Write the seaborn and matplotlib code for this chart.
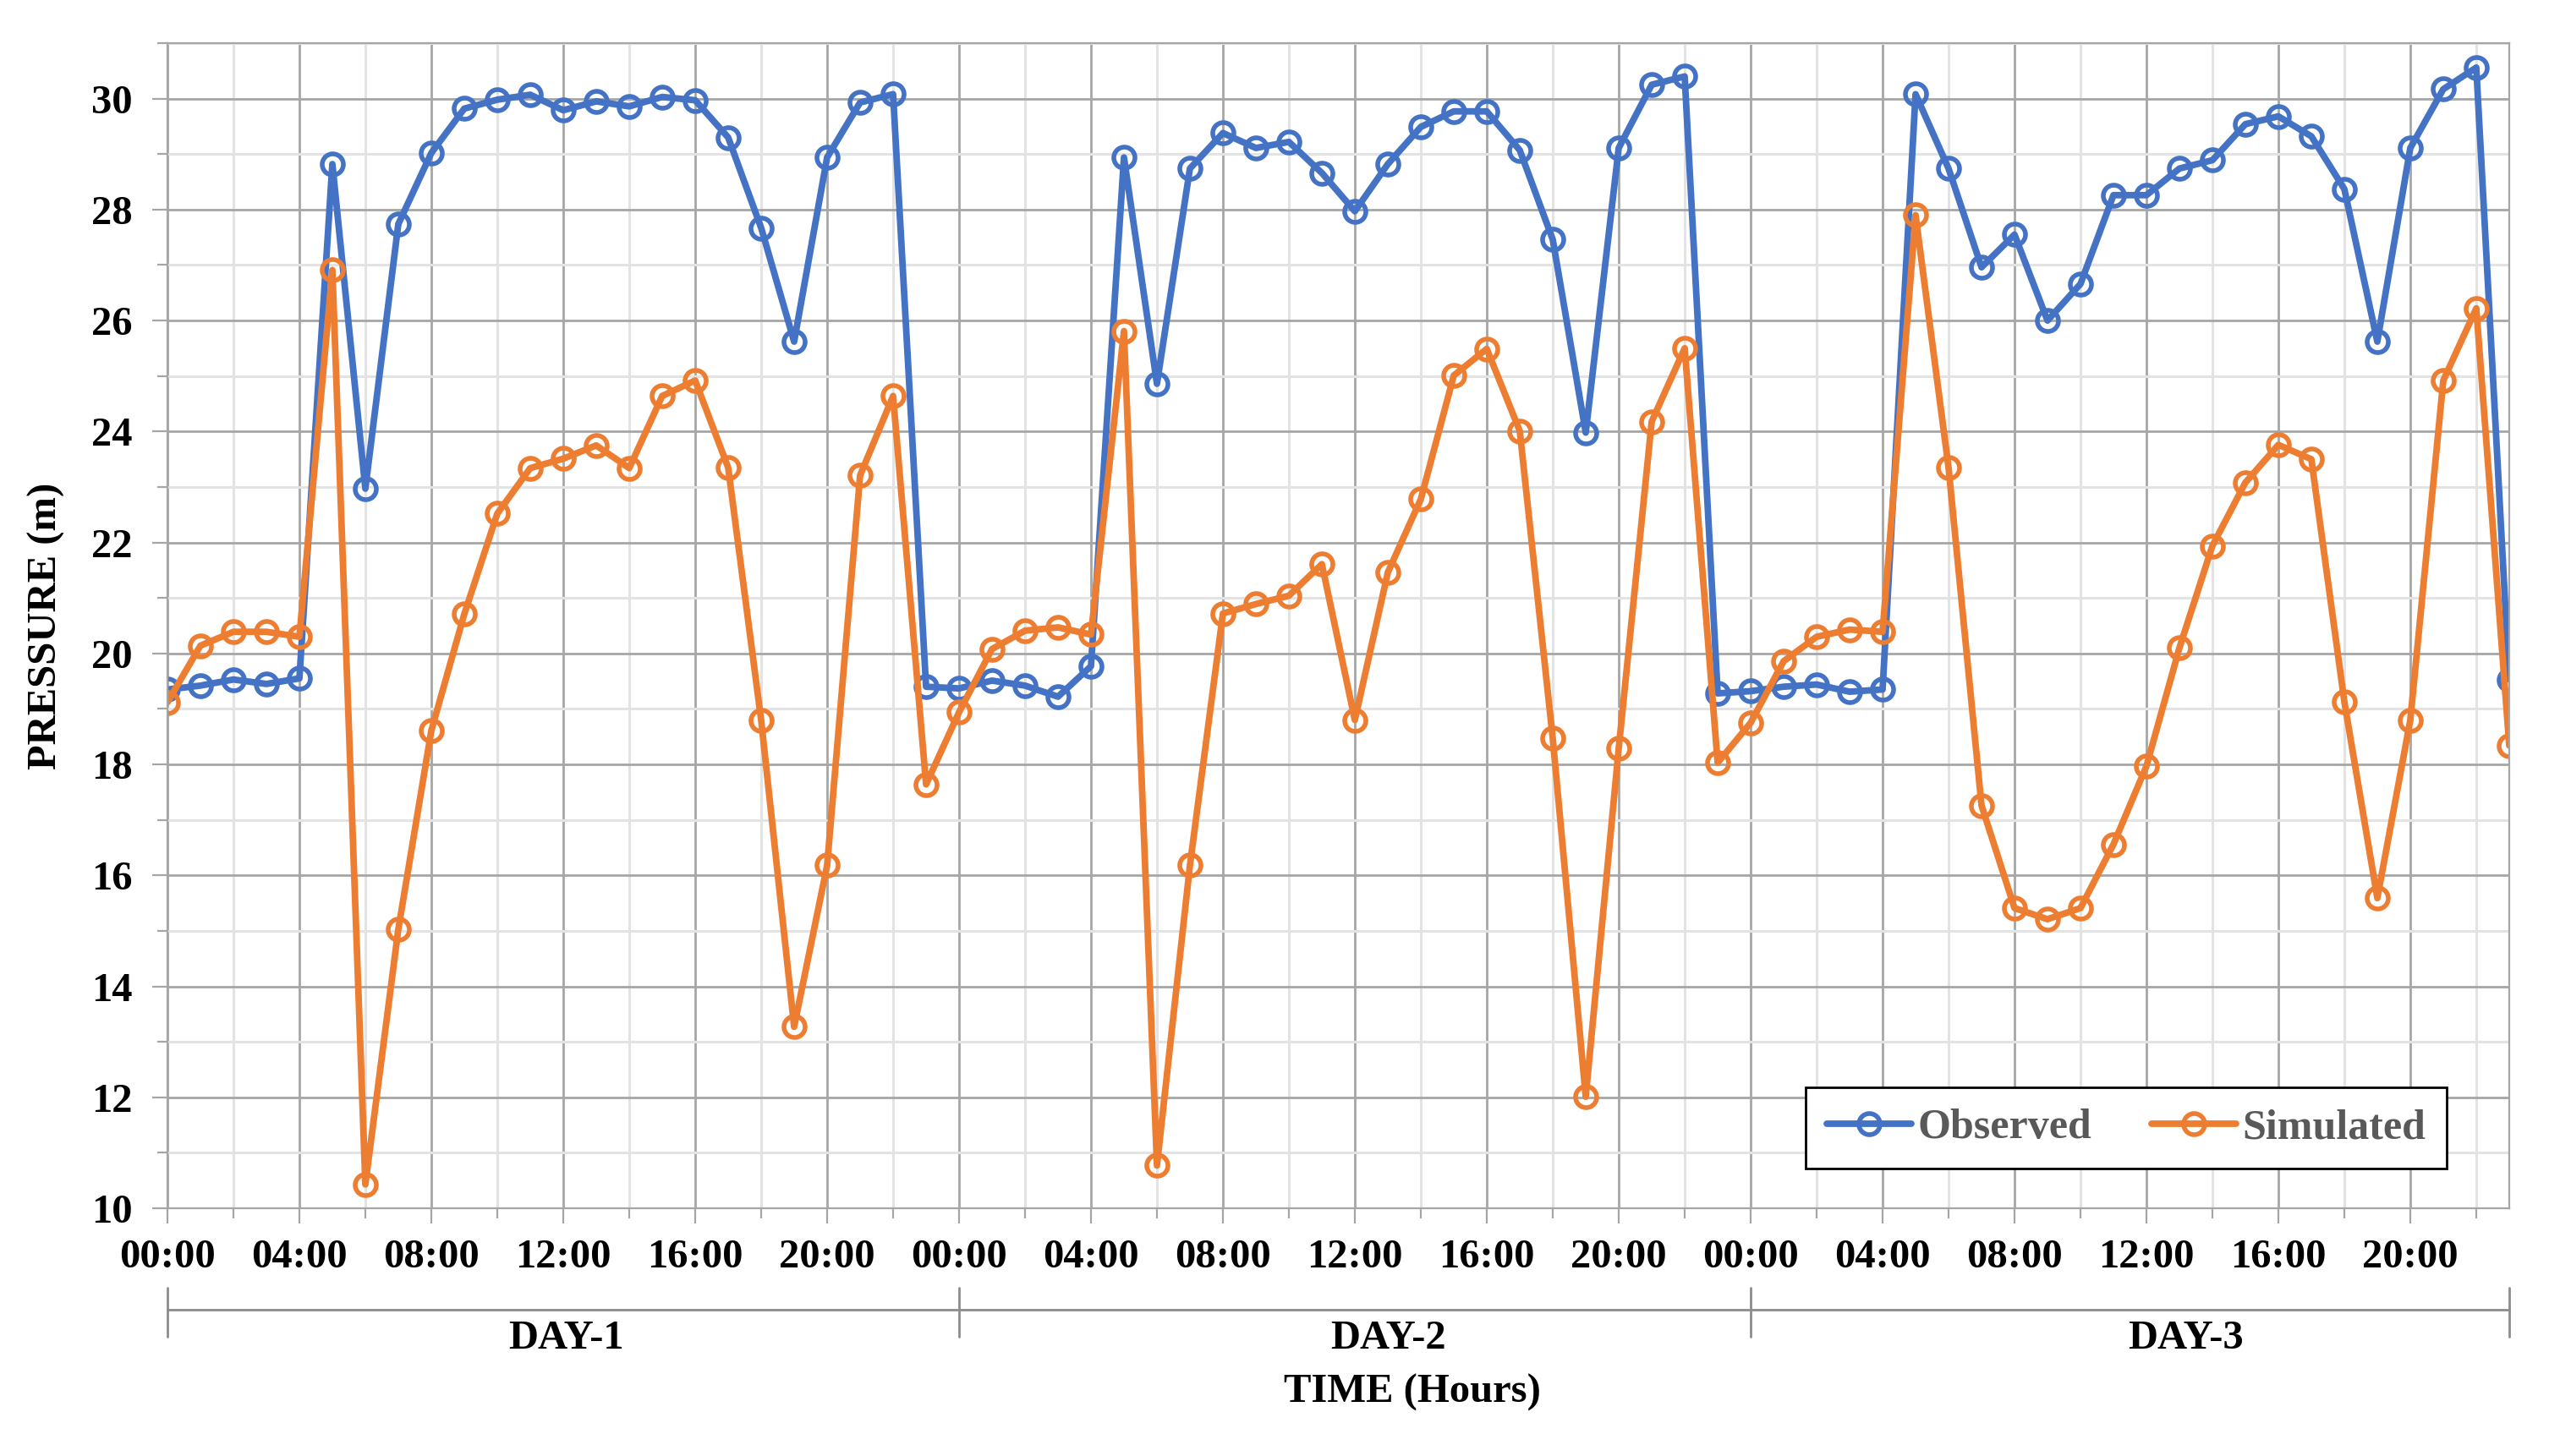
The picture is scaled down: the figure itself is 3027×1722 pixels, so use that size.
import pandas as pd
import matplotlib.pyplot as plt
from matplotlib.ticker import MultipleLocator, FixedLocator
import seaborn as sns

# hourly index over three days (00:00 day-1 ... 23:00 day-3)
hours = list(range(72))

observed = [
    19.35, 19.42, 19.53, 19.45, 19.55, 28.82, 22.97, 27.74, 29.02, 29.82, 29.98, 30.07,
    29.79, 29.95, 29.86, 30.03, 29.97, 29.30, 27.67, 25.62, 28.94, 29.93, 30.08, 19.40,
    19.37, 19.51, 19.42, 19.22, 19.77, 28.94, 24.86, 28.74, 29.38, 29.11, 29.22, 28.66,
    27.97, 28.82, 29.49, 29.77, 29.77, 29.07, 27.46, 23.98, 29.11, 30.25, 30.40, 19.28,
    19.32, 19.40, 19.44, 19.31, 19.35, 30.08, 28.74, 26.96, 27.55, 26.00, 26.66, 28.26,
    28.26, 28.74, 28.89, 29.54, 29.68, 29.32, 28.37, 25.62, 29.11, 30.17, 30.56, 19.53,
]

simulated = [
    19.12, 20.14, 20.39, 20.39, 20.30, 26.91, 10.43, 15.03, 18.61, 20.71, 22.52, 23.34,
    23.51, 23.75, 23.34, 24.64, 24.92, 23.35, 18.80, 13.27, 16.18, 23.21, 24.64, 17.64,
    18.94, 20.08, 20.41, 20.47, 20.34, 25.81, 10.77, 16.18, 20.72, 20.89, 21.04, 21.61,
    18.80, 21.46, 22.78, 25.01, 25.49, 24.01, 18.47, 12.01, 18.29, 24.18, 25.50, 18.03,
    18.75, 19.86, 20.30, 20.43, 20.39, 27.90, 23.35, 17.26, 15.41, 15.21, 15.41, 16.56,
    17.97, 20.10, 21.94, 23.08, 23.76, 23.50, 19.13, 15.59, 18.80, 24.92, 26.22, 18.34,
]

hour_labels = ["00:00", "04:00", "08:00", "12:00", "16:00", "20:00"] * 3
days = ["DAY-1", "DAY-2", "DAY-3"]

df = pd.DataFrame({
    "hour": hours * 2,
    "pressure": observed + simulated,
    "series": ["Observed"] * len(hours) + ["Simulated"] * len(hours),
})

BLUE = "#4472C4"
ORANGE = "#ED7D31"
GRID_DARK = "#A6A6A6"
GRID_LIGHT = "#E3E3E3"
FONT = ["Liberation Serif", "DejaVu Serif"]
FS = 35

sns.set_theme(style="white")
plt.rcParams["font.family"] = FONT
plt.rcParams["font.weight"] = "bold"

W, H = 3027, 1722
fig = plt.figure(figsize=(W / 100, H / 100), dpi=100)
left, right, top, bottom = 198, 2967, 51, 1429
ax = fig.add_axes([left / W, 1 - bottom / H, (right - left) / W, (bottom - top) / H])

for name, color in [("Observed", BLUE), ("Simulated", ORANGE)]:
    sns.lineplot(
        data=df[df["series"] == name],
        x="hour",
        y="pressure",
        color=color,
        linewidth=5.6,
        marker="o",
        markersize=18,
        mfc="none",
        mec=color,
        mew=4,
        errorbar=None,
        label=name,
        ax=ax,
    )

ax.set_xlim(0, 71)
ax.set_ylim(10, 31)

# grid and ticks
ax.xaxis.set_major_locator(FixedLocator(list(range(0, 72, 4))))
ax.xaxis.set_minor_locator(MultipleLocator(2))
ax.yaxis.set_major_locator(MultipleLocator(2))
ax.yaxis.set_minor_locator(MultipleLocator(1))
ax.set_xticklabels(hour_labels)
ax.set_axisbelow(True)
ax.grid(which="major", color=GRID_DARK, linewidth=2)
ax.grid(which="minor", color=GRID_LIGHT, linewidth=2.2)

ax.tick_params(which="major", direction="out", length=13, width=1.6, color=GRID_DARK,
               labelsize=FS, labelcolor="black")
ax.tick_params(which="minor", direction="out", length=8.5, width=1.6, color=GRID_DARK)
ax.tick_params(axis="y", which="major", pad=17)
ax.tick_params(axis="x", which="major", pad=13, bottom=True)
ax.tick_params(axis="x", which="minor", bottom=True)
ax.tick_params(axis="y", which="both", left=True)
for lab in ax.get_xticklabels() + ax.get_yticklabels():
    lab.set_fontweight("bold")

for sp in ax.spines.values():
    sp.set_visible(True)
    sp.set_color(GRID_DARK)
    sp.set_linewidth(1.6)

ax.set_xlabel("")
ax.set_ylabel("PRESSURE (m)", fontsize=FS, fontweight="bold", color="black")
ax.yaxis.set_label_coords(-0.0437, 0.5)

# day grouping bracket under the time axis
trans = ax.get_xaxis_transform()
ax.plot([0, 71], [-0.0871, -0.0871], transform=trans, clip_on=False,
        color="#8C8C8C", linewidth=2)
for b in [0, 24, 48, 71]:
    ax.plot([b, b], [-0.068, -0.110], transform=trans, clip_on=False,
            color="#8C8C8C", linewidth=2)
for d, xpos in zip(days, [12.1, 37.0, 61.2]):
    ax.text(xpos, -0.112, d, transform=trans, ha="center", va="center",
            fontsize=FS, fontweight="bold", color="black")
ax.text(37.75, -0.158, "TIME (Hours)", transform=trans, ha="center", va="center",
        fontsize=FS, fontweight="bold", color="black")

leg = ax.legend(
    loc="lower right",
    bbox_to_anchor=(0.9733, 0.0341),
    borderaxespad=0,
    ncol=2,
    frameon=True,
    fancybox=False,
    edgecolor="black",
    framealpha=1,
    prop={"family": FONT, "weight": "bold", "size": 36},
    labelcolor="#595959",
    handlelength=2.0,
    handletextpad=0.15,
    columnspacing=1.4,
    borderpad=0.5,
)
leg.get_frame().set_linewidth(2)

fig.savefig("out.png", dpi=100)
plt.close(fig)
